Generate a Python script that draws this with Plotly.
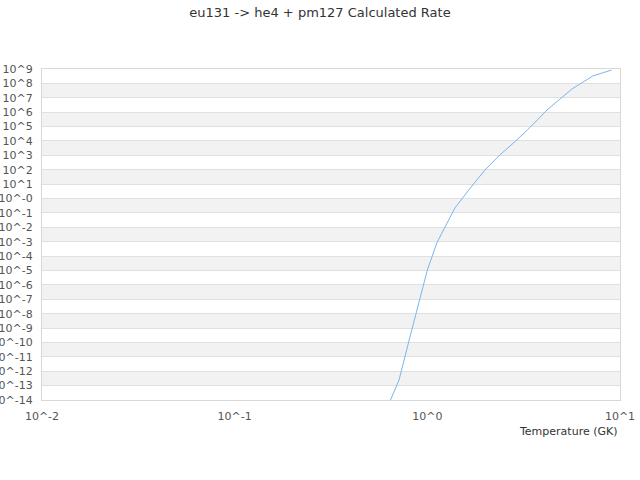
import plotly.graph_objects as go

# temperatures (GK) and calculated rate
temperature = [0.6, 0.713, 0.8, 0.9, 1.0, 1.12, 1.39, 1.64, 1.99, 2.38, 2.85,
               3.41, 4.18, 5.63, 6.19, 7.23, 9.04]
rate = [1.1e-15, 2.45e-13, 1.07e-10, 5.5e-8, 1.07e-5, 8.1e-4, 0.22, 3.9, 95,
        1.07e3, 8.9e3, 8.7e4, 1.41e6, 4.07e7, 9.1e7, 3.3e8, 8.5e8]

y_exponents = list(range(-14, 10))
y_ticktext = ["10^-14", "10^-13", "10^-12", "10^-11", "10^-10", "10^-9", "10^-8",
              "10^-7", "10^-6", "10^-5", "10^-4", "10^-3", "10^-2", "10^-1",
              "10^-0", "10^1", "10^2", "10^3", "10^4", "10^5", "10^6", "10^7",
              "10^8", "10^9"]
x_tickvals = [0.01, 0.1, 1, 10]
x_ticktext = ["10^-2", "10^-1", "10^0", "10^1"]

fig = go.Figure()

fig.add_trace(go.Scatter(
    x=temperature,
    y=rate,
    mode="lines",
    line=dict(color="#7cb5ec", width=1),
    showlegend=False,
))

# alternating grey bands (every other decade)
shapes = []
for k in range(8, -14, -2):
    shapes.append(dict(
        type="rect", xref="paper", yref="y",
        x0=0, x1=1, y0=10 ** (k - 1), y1=10 ** k,
        fillcolor="#f2f2f2", line=dict(width=0), layer="below",
    ))

fig.update_layout(
    width=640,
    height=480,
    margin=dict(l=42, r=20, t=69, b=80),
    paper_bgcolor="white",
    plot_bgcolor="white",
    font=dict(family="DejaVu Sans", size=11, color="#555555"),
    title=dict(
        text="eu131 -> he4 + pm127 Calculated Rate",
        x=0.5, xanchor="center", y=0.975, yanchor="middle",
        font=dict(size=13, color="#333333"),
        automargin=False,
    ),
    shapes=shapes,
    annotations=[dict(
        text="Temperature (GK)", xref="paper", yref="paper",
        x=1, y=0, xanchor="right", yanchor="middle", yshift=-31,
        showarrow=False, font=dict(size=11, color="#333333"),
    )],
)

fig.update_xaxes(
    type="log",
    range=[-2, 1],
    tickvals=x_tickvals,
    ticktext=x_ticktext,
    showgrid=False,
    showline=True,
    linecolor="#d8d8d8",
    mirror=True,
    ticks="",
    zeroline=False,
    automargin=False,
    ticklabelstandoff=6,
)

fig.update_yaxes(
    type="log",
    range=[-14, 9],
    tickvals=[10 ** e for e in y_exponents],
    ticktext=y_ticktext,
    showgrid=True,
    gridcolor="#e0e0e0",
    showline=True,
    linecolor="#d8d8d8",
    mirror=True,
    ticks="",
    zeroline=False,
    automargin=False,
    ticklabelstandoff=6,
)

# page body has a default 8px margin; drop it so the figure sits at the corner
fig.write_html(
    "out.html",
    config={"displayModeBar": False},
    post_script="document.body.style.margin='0';",
)
